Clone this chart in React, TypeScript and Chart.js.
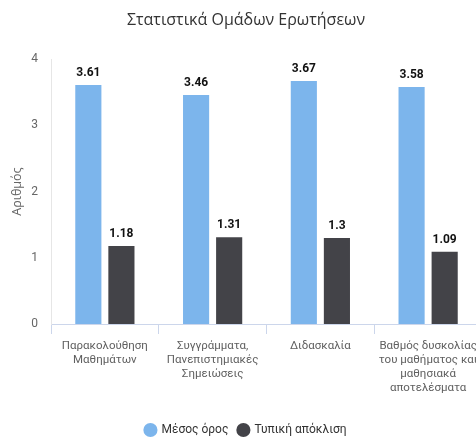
import React, { useEffect, useRef } from "react";
import { Chart, registerables } from "chart.js";

Chart.register(...registerables);

const categories: (string | string[])[] = [
  ["Παρακολούθηση", "Μαθημάτων"],
  ["Συγγράμματα,", "Πανεπιστημιακές", "Σημειώσεις"],
  "Διδασκαλία",
  ["Βαθμός δυσκολίας", "του μαθήματος και", "μαθησιακά", "αποτελέσματα"],
];
const meanValues = [3.61, 3.46, 3.67, 3.58];
const stdValues = [1.18, 1.31, 1.3, 1.09];
const seriesNames = ["Μέσος όρος", "Τυπική απόκλιση"];
const yTicks = [0, 1, 2, 3, 4];

const COND = "Roboto, 'DejaVu Sans Condensed', sans-serif";

const dataLabels = {
  id: "dataLabels",
  afterDatasetsDraw(chart: any) {
    const ctx = chart.ctx;
    ctx.save();
    ctx.font = `bold 12px ${COND}`;
    ctx.fillStyle = "#111";
    ctx.textAlign = "center";
    ctx.textBaseline = "bottom";
    chart.data.datasets.forEach((ds: any, i: number) => {
      const meta = chart.getDatasetMeta(i);
      meta.data.forEach((el: any, j: number) => {
        ctx.fillText(String(ds.data[j]), el.x, el.y - 6);
      });
    });
    ctx.restore();
  },
};

export default function App() {
  const ref = useRef<HTMLCanvasElement>(null);
  useEffect(() => {
    document.body.style.margin = "0";
    document.body.style.overflow = "hidden";
    const chart = new Chart(ref.current!, {
      type: "bar",
      data: {
        labels: categories,
        datasets: [
          { label: seriesNames[0], data: meanValues, backgroundColor: "#7cb5ec", barPercentage: 0.79, categoryPercentage: 0.614 },
          { label: seriesNames[1], data: stdValues, backgroundColor: "#434348", barPercentage: 0.79, categoryPercentage: 0.614 },
        ],
      },
      options: {
        animation: false,
        responsive: false,
        maintainAspectRatio: false,
        layout: { padding: { left: 0, right: 0, top: 0, bottom: -7 } },
        plugins: {
          title: {
            display: true,
            text: "Στατιστικά Ομάδων Ερωτήσεων",
            color: "#333",
            font: { family: "'Open Sans', sans-serif", size: 16, weight: "normal" },
            padding: { top: 11, bottom: 29 },
          },
          legend: {
            position: "bottom",
            labels: {
              usePointStyle: true,
              pointStyle: "circle",
              boxWidth: 10,
              boxHeight: 10,
              padding: 10,
              color: "#333",
              font: { family: COND, size: 12 },
            },
          },
          tooltip: { enabled: false },
        },
        scales: {
          x: {
            grid: { display: true, offset: true, drawOnChartArea: false, drawTicks: true, tickLength: 10, color: "#ccd6eb" },
            border: { display: true, color: "#ccd6eb" },
            ticks: { color: "#606060", font: { family: COND, size: 11.5, lineHeight: 1.22 }, padding: 5, maxRotation: 0, autoSkip: false },
            afterFit(axis: any) { axis.height = 90; },
          },
          y: {
            min: 0,
            max: 4,
            grid: { display: false, drawTicks: false },
            border: { display: true, color: "#e6e6e6" },
            afterBuildTicks(axis: any) { axis.ticks = yTicks.map((v) => ({ value: v })); },
            ticks: { color: "#666", font: { family: COND, size: 12 }, padding: 13 },
            title: { display: true, text: "Αριθμός", color: "#666", font: { family: "'Open Sans', sans-serif", size: 12.5 }, padding: { top: 10, bottom: 0 } },
            afterFit(axis: any) { axis.width = 51; },
          },
          spacer: {
            type: "linear",
            position: "right",
            display: true,
            grid: { display: false, drawTicks: false },
            border: { display: false },
            ticks: { display: false },
            afterFit(axis: any) { axis.width = 10; },
          },
        },
      },
      plugins: [dataLabels],
    });
    return () => chart.destroy();
  }, []);
  return (
    <div style={{ width: 476, height: 439, overflow: "hidden", position: "relative", background: "#fff" }}>
      <canvas ref={ref} width={492} height={439} style={{ display: "block" }} />
    </div>
  );
}
